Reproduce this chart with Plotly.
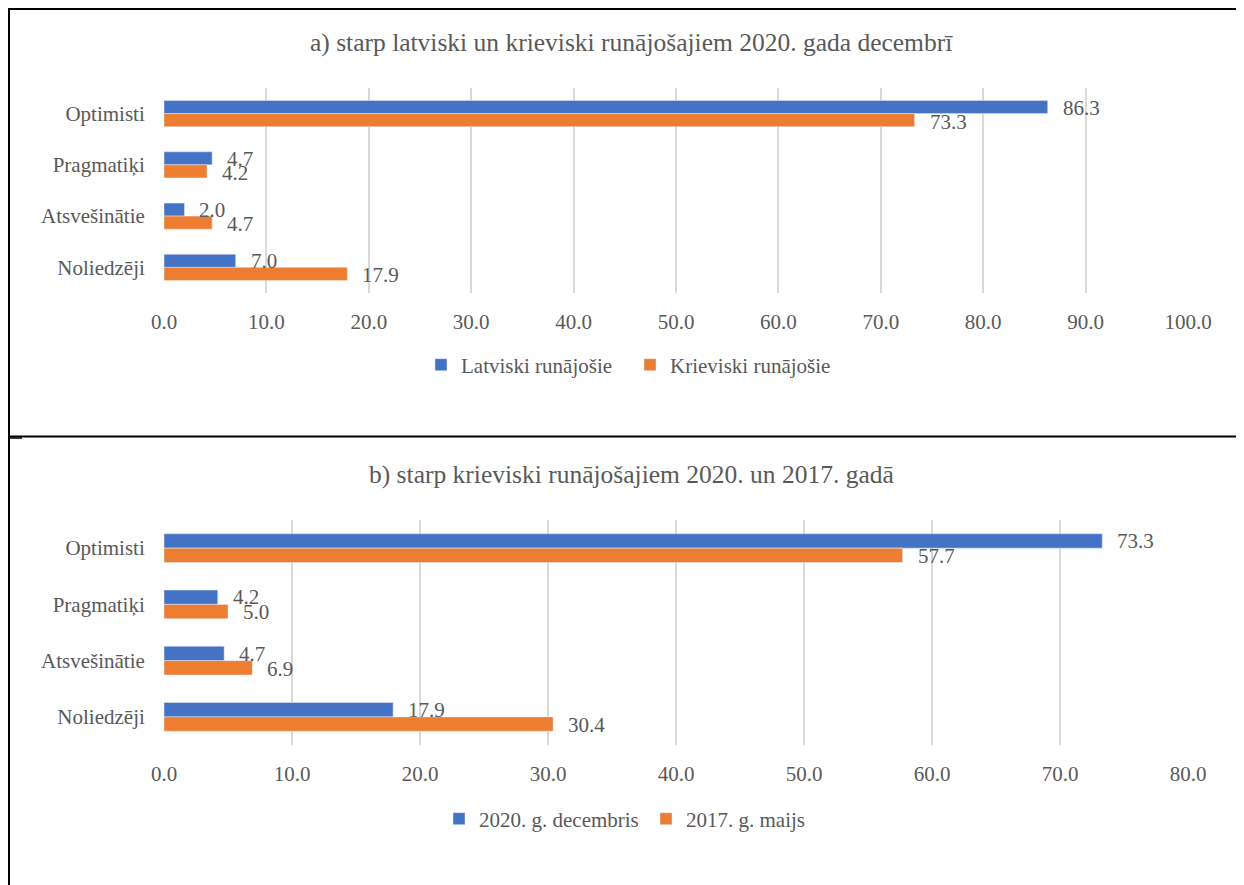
import plotly.graph_objects as go

W, H = 1244, 885
OFF = 8  # page body margin: the figure is drawn 8px right/down in the window

categories = ["Optimisti", "Pragmatiķi", "Atsvešinātie", "Noliedzēji"]

# Chart a
a_title = "a) starp latviski un krieviski runājošajiem 2020. gada decembrī"
a_series_names = ["Latviski runājošie", "Krieviski runājošie"]
a_latv = [86.3, 4.7, 2.0, 7.0]
a_kriev = [73.3, 4.2, 4.7, 17.9]
a_ticks = [0, 10, 20, 30, 40, 50, 60, 70, 80, 90, 100]

# Chart b
b_title = "b) starp krieviski runājošajiem 2020. un 2017. gadā"
b_series_names = ["2020. g. decembris", "2017. g. maijs"]
b_2020 = [73.3, 4.2, 4.7, 17.9]
b_2017 = [57.7, 5.0, 6.9, 30.4]
b_ticks = [0, 10, 20, 30, 40, 50, 60, 70, 80]

BLUE = "#4472C4"
ORANGE = "#ED7D31"
TXT = "#595959"
GRID = "#D9D9D9"
FONT = "Liberation Serif"


def px_x(p):
    # p: window pixel position -> paper fraction
    return (p - OFF) / W


def px_y(p):
    return 1 - (p - OFF) / H


fig = go.Figure()

# chart a traces
fig.add_trace(go.Bar(y=categories, x=a_latv, orientation="h", name=a_series_names[0],
                     marker_color=BLUE, xaxis="x", yaxis="y", legend="legend"))
fig.add_trace(go.Bar(y=categories, x=a_kriev, orientation="h", name=a_series_names[1],
                     marker_color=ORANGE, xaxis="x", yaxis="y", legend="legend"))
# chart b traces
fig.add_trace(go.Bar(y=categories, x=b_2020, orientation="h", name=b_series_names[0],
                     marker_color=BLUE, xaxis="x2", yaxis="y2", legend="legend2"))
fig.add_trace(go.Bar(y=categories, x=b_2017, orientation="h", name=b_series_names[1],
                     marker_color=ORANGE, xaxis="x2", yaxis="y2", legend="legend2"))

annotations = []


def add_labels(vals, xref, yref, yshift):
    for c, v in zip(categories, vals):
        annotations.append(dict(x=v, y=c, xref=xref, yref=yref, text=f"{v:.1f}",
                                showarrow=False, xanchor="left", yanchor="middle",
                                xshift=13, yshift=yshift,
                                font=dict(family=FONT, size=21, color=TXT)))


add_labels(a_latv, "x", "y", 6)
add_labels(a_kriev, "x", "y", -8)
add_labels(b_2020, "x2", "y2", 7)
add_labels(b_2017, "x2", "y2", -8)

annotations.append(dict(x=px_x(631), y=px_y(42), xref="paper", yref="paper", text=a_title,
                        showarrow=False, xanchor="center", yanchor="middle",
                        font=dict(family=FONT, size=25.5, color=TXT)))
annotations.append(dict(x=px_x(631), y=px_y(474), xref="paper", yref="paper", text=b_title,
                        showarrow=False, xanchor="center", yanchor="middle",
                        font=dict(family=FONT, size=25.5, color=TXT)))

shapes = [
    dict(type="line", xref="paper", yref="paper", x0=1 / W, x1=1 / W, y0=0, y1=1,
         line=dict(color="black", width=2)),
    dict(type="line", xref="paper", yref="paper", x0=0, x1=1, y0=1 - 1 / H, y1=1 - 1 / H,
         line=dict(color="black", width=2)),
    dict(type="line", xref="paper", yref="paper", x0=0, x1=1, y0=px_y(436.5), y1=px_y(436.5),
         line=dict(color="black", width=2)),
    dict(type="line", xref="paper", yref="paper", x0=0, x1=px_x(22), y0=px_y(438), y1=px_y(438),
         line=dict(color="black", width=1.5)),
]

xaxis_common = dict(showgrid=True, gridcolor=GRID, gridwidth=1.5, zeroline=False, showline=False,
                    tickformat=".1f", ticks="outside", ticklen=10, tickcolor="rgba(0,0,0,0)",
                    tickfont=dict(family=FONT, size=21, color=TXT), fixedrange=True,
                    automargin=False)
yaxis_common = dict(type="category", categoryorder="array", categoryarray=categories,
                    autorange="reversed", showgrid=False, zeroline=False, showline=False,
                    ticks="outside", ticklen=14, tickcolor="rgba(0,0,0,0)",
                    tickfont=dict(family=FONT, size=21, color=TXT), automargin=False)

legend_common = dict(orientation="h", xanchor="left", yanchor="middle",
                     font=dict(family=FONT, size=21, color=TXT), bgcolor="rgba(0,0,0,0)",
                     itemwidth=30, tracegroupgap=0, entrywidthmode="pixels")

fig.update_layout(
    width=W, height=H,
    margin=dict(l=0, r=0, t=0, b=0, pad=0, autoexpand=False),
    paper_bgcolor="white", plot_bgcolor="white",
    barmode="group", bargap=0.49, bargroupgap=0,
    xaxis=dict(domain=[px_x(164), px_x(1188)], range=[0, 100], tickvals=a_ticks, anchor="y",
               **xaxis_common),
    yaxis=dict(domain=[px_y(293), px_y(88)], anchor="x", **yaxis_common),
    xaxis2=dict(domain=[px_x(164), px_x(1188)], range=[0, 80], tickvals=b_ticks, anchor="y2",
                **xaxis_common),
    yaxis2=dict(domain=[px_y(745), px_y(520)], anchor="x2", **yaxis_common),
    legend=dict(x=px_x(421), y=px_y(365), entrywidth=164, **legend_common),
    legend2=dict(x=px_x(439), y=px_y(819), entrywidth=162, **legend_common),
    annotations=annotations,
    shapes=shapes,
    font=dict(family=FONT, color=TXT),
)

fig.write_html("out.html")
